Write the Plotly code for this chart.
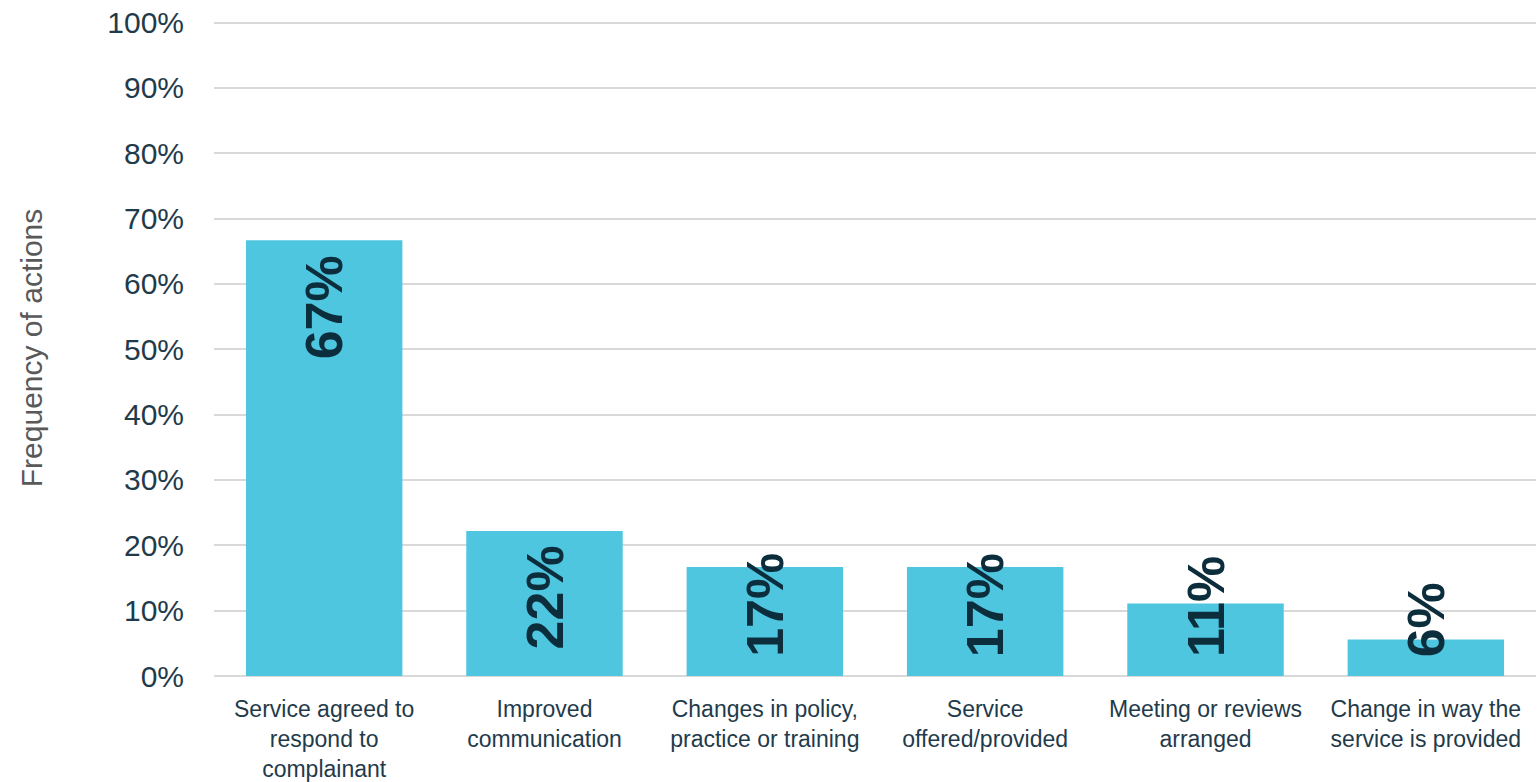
import plotly.graph_objects as go

categories = [
    "Service agreed to<br>respond to<br>complainant",
    "Improved<br>communication",
    "Changes in policy,<br>practice or training",
    "Service<br>offered/provided",
    "Meeting or reviews<br>arranged",
    "Change in way the<br>service is provided",
]
values = [66.7, 22.2, 16.7, 16.7, 11.1, 5.6]
value_labels = ["67%", "22%", "17%", "17%", "11%", "6%"]

BAR_COLOR = "#4FC6E0"
LABEL_COLOR = "#0B2D3C"
TICK_COLOR = "#1F3B4B"
GRID_COLOR = "#D9D9D9"

W, H = 1540, 782
M_L, M_R, M_T, M_B = 214, 4, 20, 106
plot_h = H - M_T - M_B
Y_MAX = 100.4
LABEL_FONT = 52
FONT = "Liberation Sans, Arial, sans-serif"

fig = go.Figure()
fig.add_trace(go.Bar(
    x=categories, y=values,
    marker=dict(color=BAR_COLOR, line=dict(width=0)),
    hoverinfo="skip",
))

# value labels rotated, anchored inside the top of the bar; if too long, lifted from the base
for cat, v, lab in zip(categories, values, value_labels):
    bar_px = v / Y_MAX * plot_h
    text_px = len(lab) * 0.62 * LABEL_FONT * 1.07
    font = dict(size=LABEL_FONT, color=LABEL_COLOR, family=FONT, weight="bold")
    if bar_px - 16 >= text_px + 20:
        fig.add_annotation(x=cat, y=v, yanchor="top", yshift=-13, text=lab,
                           textangle=-90, showarrow=False, font=font)
    else:
        fig.add_annotation(x=cat, y=0, yanchor="bottom", yshift=17, text=lab,
                           textangle=-90, showarrow=False, font=font)

fig.update_layout(
    width=W, height=H,
    margin=dict(l=M_L, r=M_R, t=M_T, b=M_B),
    paper_bgcolor="white", plot_bgcolor="white",
    bargap=0.29,
    showlegend=False,
    font=dict(family=FONT),
)
fig.update_xaxes(
    tickfont=dict(size=23, color=TICK_COLOR),
    showgrid=False, showline=False, ticks="",
    ticklabelstandoff=17, automargin=False,
)
fig.update_yaxes(
    range=[0, Y_MAX], tick0=0, dtick=10, ticksuffix="%",
    tickfont=dict(size=30, color=TICK_COLOR),
    showgrid=True, gridcolor=GRID_COLOR, gridwidth=2,
    zeroline=True, zerolinecolor=GRID_COLOR, zerolinewidth=2,
    ticklabelstandoff=29, automargin=False,
    title=dict(text="Frequency of actions", font=dict(size=30, color="#595959"), standoff=55),
)

fig.write_html("out.html", config={"displayModeBar": False},
               post_script="document.body.style.margin='0px';")
